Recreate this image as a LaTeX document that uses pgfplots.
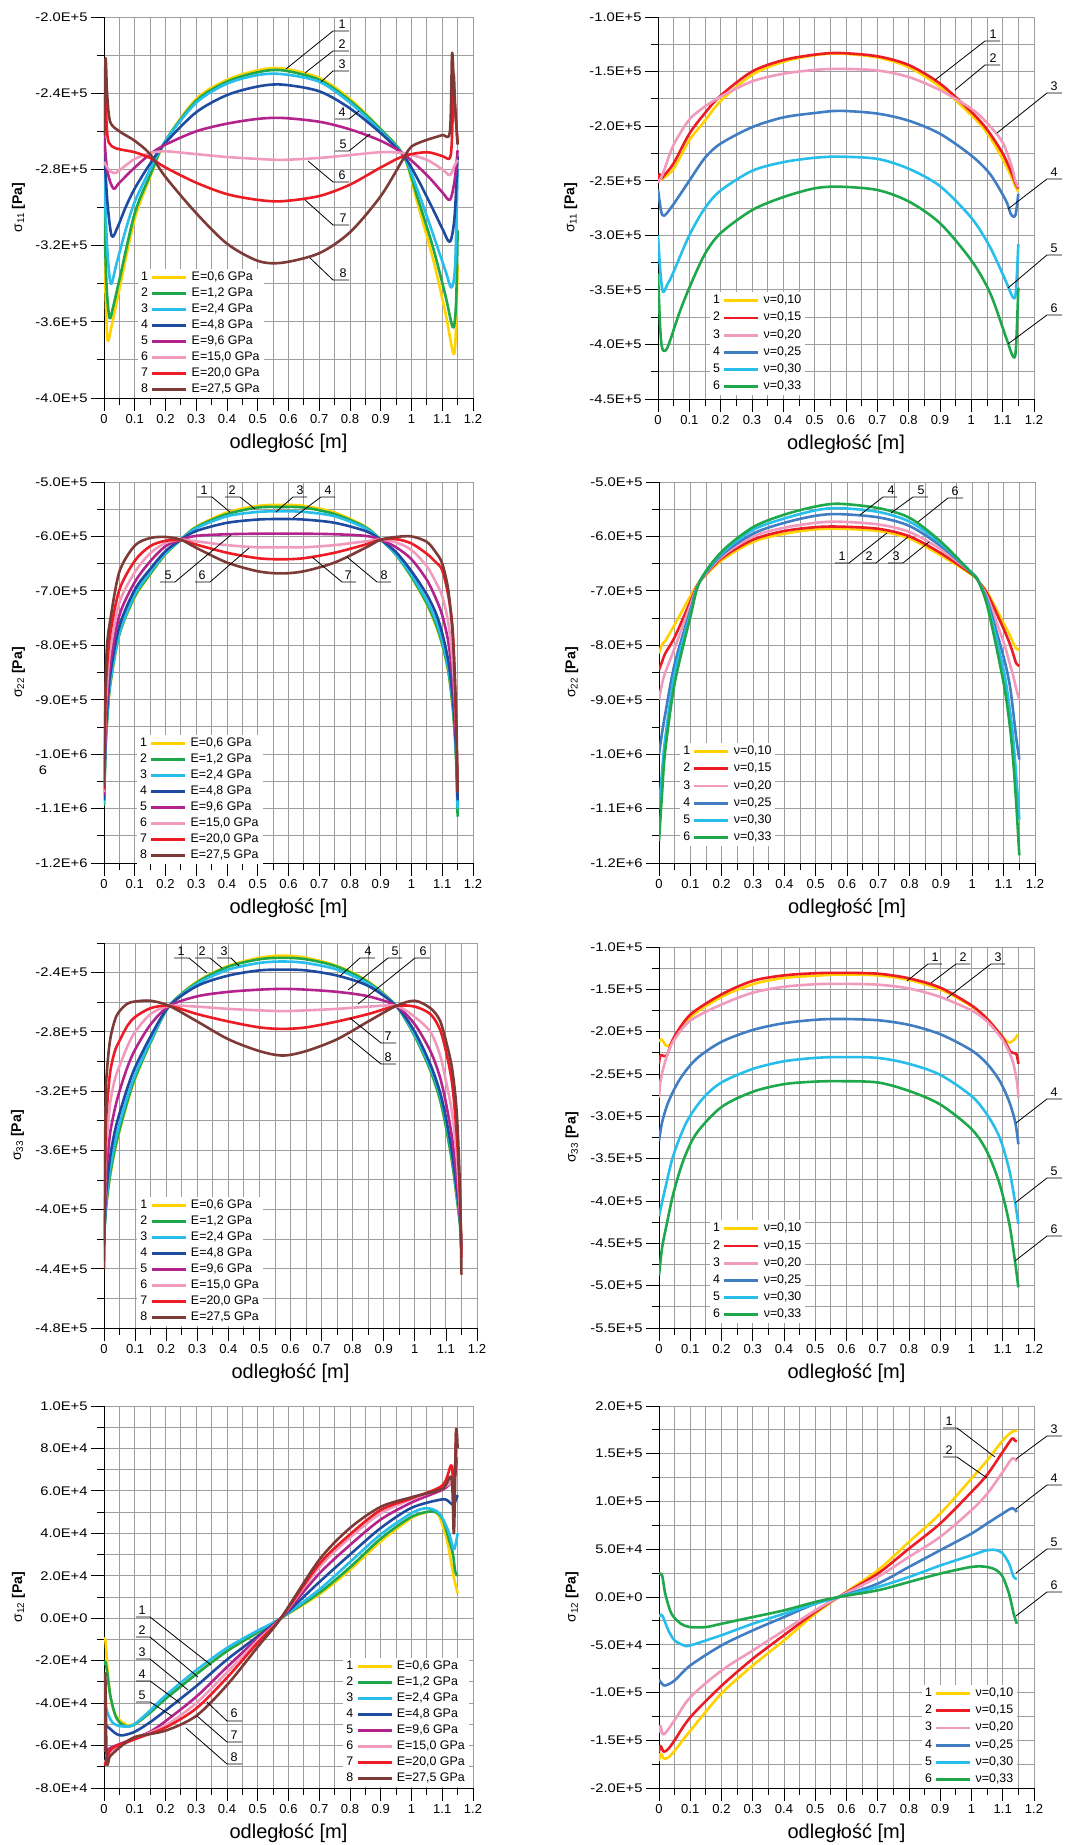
\documentclass[border=0pt]{standalone}
\usepackage{fontspec}
\setmainfont{Liberation Sans}
\newfontfamily\yfont{Liberation Sans}[FakeStretch=1.18]
\usepackage{pgfplots}
\pgfplotsset{compat=1.18}
\definecolor{cY}{RGB}{255,210,0}
\definecolor{cG}{RGB}{30,168,75}
\definecolor{cC}{RGB}{40,190,235}
\definecolor{cB}{RGB}{30,75,160}
\definecolor{cM}{RGB}{180,35,140}
\definecolor{cP}{RGB}{240,155,190}
\definecolor{cR}{RGB}{237,28,36}
\definecolor{cBr}{RGB}{125,58,55}
\definecolor{cBB}{RGB}{65,125,195}
\newcommand\ytf{\yfont\fontsize{12.5}{14}\selectfont}
\newcommand\xtf{\fontsize{13}{15}\selectfont}
\newcommand\xlf{\fontsize{20}{23}\selectfont}
\newcommand\ylf{\fontsize{14}{16}\selectfont}
\newcommand\lgf{\fontsize{12.4}{14}\selectfont}
\newcommand\cof{\fontsize{12.5}{14}\selectfont}
\newcommand\co[8]{\draw[line width=0.8pt] (#2,#3) -- (#4,#5) -- (#6,#5); \node[font=\cof, inner sep=0pt] at (#7,#8) {#1};}
\pgfplotsset{
 base/.style={
   scale only axis,
   xmin=0, xmax=1.2,
   xtick={0,0.1,0.2,0.3,0.4,0.5,0.6,0.7,0.8,0.9,1,1.1,1.2},
   xticklabels={0,0.1,0.2,0.3,0.4,0.5,0.6,0.7,0.8,0.9,1,1.1,1.2},
   minor xtick={0.05,0.15,0.25,0.35,0.45,0.55,0.65,0.75,0.85,0.95,1.05,1.15},
   scaled y ticks=false,
   grid=both,
   major grid style={draw=black!38, line width=0.9pt},
   minor grid style={draw=black!38, line width=0.9pt},
   axis x line*=bottom, axis y line*=left,
   axis line style={-, black, line width=0.9pt},
   tick align=outside,
   major tick length=13pt, minor tick length=7pt,
   every tick/.style={black, line width=0.8pt},
   xticklabel style={font=\xtf},
   yticklabel style={font=\ytf},
   xlabel={odległość [m]},
   every axis x label/.style={at={(axis description cs:0.5,-0.118)}, anchor=center, font=\xlf},
   every axis y label/.style={at={(axis description cs:-0.232,0.5)}, rotate=90, anchor=center, font=\ylf},
   legend style={draw=none, fill=white, anchor=north west, font=\lgf, inner xsep=3pt, inner ysep=2pt, column sep=3pt, row sep=3pt, nodes={inner sep=1pt, text height=8.5pt, text depth=2.5pt, anchor=west}},
   legend cell align=left,
   every axis plot/.append style={line width=2.6pt, smooth, tension=0.5, line join=round},
 },
 numimg/.style={legend image code/.code={\node[anchor=east, inner sep=0pt, font=\lgf, text=black] at (-3pt,0pt) {#1}; \draw[##1, line width=2.8pt] (0pt,0pt) -- (34pt,0pt);}},
 e1/.style={cY,numimg=1}, e2/.style={cG,numimg=2}, e3/.style={cC,numimg=3}, e4/.style={cB,numimg=4},
 e5/.style={cM,numimg=5}, e6/.style={cP,numimg=6}, e7/.style={cR,numimg=7}, e8/.style={cBr,numimg=8},
 n1/.style={cY,numimg=1}, n2/.style={cR,numimg=2}, n3/.style={cP,numimg=3}, n4/.style={cBB,numimg=4},
 n5/.style={cC,numimg=5}, n6/.style={cG,numimg=6},
}
\begin{document}
\begin{tikzpicture}
\path[use as bounding box] (0,0) rectangle (1071pt,1845pt);
%================ P1
\begin{axis}[base, at={(104pt,1447pt)}, anchor=south west, width=369pt, height=381pt,
  ymin=-4e5, ymax=-2e5,
  ytick={-4e5,-3.6e5,-3.2e5,-2.8e5,-2.4e5,-2e5},
  yticklabels={-4.0E+5,-3.6E+5,-3.2E+5,-2.8E+5,-2.4E+5,-2.0E+5},
  minor ytick={-3.8e5,-3.4e5,-3e5,-2.6e5,-2.2e5},
  ylabel={σ\textsubscript{11} \textbf{[Pa]}},
  legend style={at={(0.092,0.339)}}]
\addplot[e1] coordinates {(0,-3.15e5) (0.006,-3.50e5) (0.012,-3.70e5) (0.025,-3.62e5) (0.05,-3.43e5) (0.1,-3.06e5) (0.15,-2.84e5) (0.2,-2.65e5) (0.3,-2.43e5) (0.4,-2.33e5) (0.5,-2.28e5) (0.58,-2.27e5) (0.7,-2.32e5) (0.8,-2.43e5) (0.9,-2.59e5) (0.975,-2.73e5) (1.02,-2.98e5) (1.07,-3.27e5) (1.11,-3.55e5) (1.137,-3.77e5) (1.145,-3.62e5) (1.15,-3.30e5)};
\addlegendentry{E=0,6 GPa}
\addplot[e2] coordinates {(0,-2.98e5) (0.008,-3.40e5) (0.018,-3.58e5) (0.03,-3.52e5) (0.05,-3.38e5) (0.1,-3.03e5) (0.15,-2.83e5) (0.2,-2.65e5) (0.3,-2.44e5) (0.4,-2.34e5) (0.5,-2.29e5) (0.58,-2.28e5) (0.7,-2.33e5) (0.8,-2.44e5) (0.9,-2.59e5) (0.975,-2.73e5) (1.02,-2.95e5) (1.07,-3.21e5) (1.11,-3.46e5) (1.135,-3.63e5) (1.145,-3.50e5) (1.15,-3.12e5)};
\addlegendentry{E=1,2 GPa}
\addplot[e3] coordinates {(0,-2.80e5) (0.01,-3.20e5) (0.022,-3.40e5) (0.04,-3.30e5) (0.07,-3.12e5) (0.1,-2.97e5) (0.15,-2.80e5) (0.2,-2.65e5) (0.3,-2.45e5) (0.4,-2.35e5) (0.5,-2.305e5) (0.58,-2.30e5) (0.7,-2.34e5) (0.8,-2.45e5) (0.9,-2.60e5) (0.975,-2.73e5) (1.02,-2.91e5) (1.07,-3.14e5) (1.11,-3.33e5) (1.13,-3.42e5) (1.142,-3.30e5) (1.15,-2.80e5)};
\addlegendentry{E=2,4 GPa}
\addplot[e4] coordinates {(0,-2.65e5) (0.01,-2.95e5) (0.025,-3.15e5) (0.045,-3.10e5) (0.07,-3.00e5) (0.1,-2.90e5) (0.15,-2.77e5) (0.2,-2.66e5) (0.3,-2.50e5) (0.4,-2.41e5) (0.5,-2.365e5) (0.58,-2.355e5) (0.7,-2.39e5) (0.8,-2.48e5) (0.9,-2.61e5) (0.975,-2.73e5) (1.02,-2.85e5) (1.07,-3.01e5) (1.1,-3.11e5) (1.125,-3.18e5) (1.14,-3.05e5) (1.15,-2.73e5)};
\addlegendentry{E=4,8 GPa}
\addplot[e5] coordinates {(0,-2.60e5) (0.01,-2.80e5) (0.03,-2.90e5) (0.05,-2.87e5) (0.1,-2.79e5) (0.15,-2.72e5) (0.2,-2.67e5) (0.3,-2.60e5) (0.4,-2.56e5) (0.5,-2.535e5) (0.58,-2.53e5) (0.7,-2.55e5) (0.8,-2.59e5) (0.9,-2.65e5) (0.975,-2.72e5) (1.05,-2.83e5) (1.1,-2.92e5) (1.125,-2.96e5) (1.14,-2.86e5) (1.15,-2.70e5)};
\addlegendentry{E=9,6 GPa}
\addplot[e6] coordinates {(0,-2.76e5) (0.015,-2.80e5) (0.035,-2.82e5) (0.07,-2.78e5) (0.1,-2.745e5) (0.15,-2.715e5) (0.2,-2.705e5) (0.3,-2.72e5) (0.4,-2.735e5) (0.5,-2.745e5) (0.58,-2.75e5) (0.7,-2.74e5) (0.8,-2.725e5) (0.9,-2.71e5) (0.975,-2.715e5) (1.05,-2.75e5) (1.1,-2.80e5) (1.125,-2.83e5) (1.14,-2.78e5) (1.15,-2.75e5)};
\addlegendentry{E=15,0 GPa}
\addplot[e7] coordinates {(0,-2.62e5) (0.004,-2.40e5) (0.009,-2.58e5) (0.016,-2.66e5) (0.04,-2.69e5) (0.1,-2.71e5) (0.15,-2.74e5) (0.2,-2.79e5) (0.3,-2.87e5) (0.4,-2.93e5) (0.5,-2.96e5) (0.58,-2.967e5) (0.7,-2.94e5) (0.8,-2.88e5) (0.9,-2.79e5) (0.975,-2.73e5) (1.05,-2.71e5) (1.1,-2.73e5) (1.125,-2.74e5) (1.132,-2.62e5) (1.137,-2.30e5) (1.142,-2.48e5) (1.15,-2.66e5)};
\addlegendentry{E=20,0 GPa}
\addplot[e8] coordinates {(0,-2.62e5) (0.005,-2.22e5) (0.01,-2.40e5) (0.02,-2.55e5) (0.05,-2.60e5) (0.1,-2.65e5) (0.15,-2.72e5) (0.2,-2.84e5) (0.3,-3.03e5) (0.4,-3.19e5) (0.5,-3.28e5) (0.58,-3.29e5) (0.7,-3.24e5) (0.8,-3.13e5) (0.9,-2.94e5) (0.975,-2.74e5) (1.0,-2.68e5) (1.05,-2.645e5) (1.1,-2.62e5) (1.125,-2.60e5) (1.132,-2.19e5) (1.139,-2.40e5) (1.15,-2.67e5)};
\addlegendentry{E=27,5 GPa}
\end{axis}
%================ P2
\begin{axis}[base, at={(658pt,1446pt)}, anchor=south west, width=376pt, height=382pt,
  ymin=-4.5e5, ymax=-1e5,
  ytick={-4.5e5,-4e5,-3.5e5,-3e5,-2.5e5,-2e5,-1.5e5,-1e5},
  yticklabels={-4.5E+5,-4.0E+5,-3.5E+5,-3.0E+5,-2.5E+5,-2.0E+5,-1.5E+5,-1.0E+5},
  minor ytick={-4.25e5,-3.75e5,-3.25e5,-2.75e5,-2.25e5,-1.75e5,-1.25e5},
  ylabel={σ\textsubscript{11} \textbf{[Pa]}},
  legend style={at={(0.138,0.280)}, row sep=4.2pt}]
\addplot[n1] coordinates {(0,-2.50e5) (0.005,-2.45e5) (0.01,-2.49e5) (0.02,-2.47e5) (0.05,-2.39e5) (0.1,-2.13e5) (0.15,-1.95e5) (0.2,-1.77e5) (0.3,-1.53e5) (0.4,-1.41e5) (0.5,-1.35e5) (0.58,-1.335e5) (0.7,-1.37e5) (0.8,-1.46e5) (0.9,-1.64e5) (1.0,-1.90e5) (1.05,-2.06e5) (1.1,-2.30e5) (1.13,-2.48e5) (1.14,-2.55e5) (1.15,-2.60e5)};
\addlegendentry{ν=0,10}
\addplot[n2] coordinates {(0,-2.50e5) (0.005,-2.44e5) (0.01,-2.48e5) (0.02,-2.45e5) (0.05,-2.34e5) (0.1,-2.07e5) (0.15,-1.88e5) (0.2,-1.72e5) (0.3,-1.50e5) (0.4,-1.395e5) (0.5,-1.345e5) (0.58,-1.33e5) (0.7,-1.36e5) (0.8,-1.44e5) (0.9,-1.61e5) (1.0,-1.87e5) (1.05,-2.03e5) (1.1,-2.25e5) (1.13,-2.44e5) (1.14,-2.52e5) (1.15,-2.57e5)};
\addlegendentry{ν=0,15}
\addplot[n3] coordinates {(0,-2.52e5) (0.01,-2.47e5) (0.02,-2.40e5) (0.05,-2.17e5) (0.1,-1.94e5) (0.15,-1.82e5) (0.2,-1.73e5) (0.3,-1.59e5) (0.4,-1.52e5) (0.5,-1.485e5) (0.58,-1.475e5) (0.7,-1.49e5) (0.8,-1.55e5) (0.9,-1.67e5) (1.0,-1.84e5) (1.05,-1.97e5) (1.1,-2.15e5) (1.13,-2.38e5) (1.14,-2.50e5) (1.15,-2.56e5)};
\addlegendentry{ν=0,20}
\addplot[n4] coordinates {(0,-2.58e5) (0.01,-2.78e5) (0.02,-2.82e5) (0.046,-2.73e5) (0.1,-2.50e5) (0.15,-2.29e5) (0.2,-2.16e5) (0.3,-2.01e5) (0.4,-1.92e5) (0.5,-1.88e5) (0.58,-1.86e5) (0.7,-1.885e5) (0.8,-1.95e5) (0.9,-2.07e5) (1.0,-2.27e5) (1.06,-2.44e5) (1.11,-2.68e5) (1.125,-2.80e5) (1.135,-2.83e5) (1.142,-2.80e5) (1.15,-2.62e5)};
\addlegendentry{ν=0,25}
\addplot[n5] coordinates {(0,-3.00e5) (0.008,-3.35e5) (0.016,-3.52e5) (0.03,-3.45e5) (0.046,-3.36e5) (0.1,-3.00e5) (0.15,-2.75e5) (0.2,-2.59e5) (0.3,-2.41e5) (0.4,-2.33e5) (0.5,-2.29e5) (0.58,-2.28e5) (0.7,-2.30e5) (0.8,-2.39e5) (0.9,-2.55e5) (1.0,-2.84e5) (1.06,-3.11e5) (1.11,-3.42e5) (1.133,-3.57e5) (1.142,-3.52e5) (1.15,-3.08e5)};
\addlegendentry{ν=0,30}
\addplot[n6] coordinates {(0,-3.35e5) (0.007,-3.85e5) (0.014,-4.04e5) (0.03,-4.03e5) (0.067,-3.72e5) (0.1,-3.48e5) (0.15,-3.17e5) (0.2,-2.98e5) (0.3,-2.77e5) (0.4,-2.65e5) (0.5,-2.57e5) (0.58,-2.555e5) (0.7,-2.585e5) (0.8,-2.69e5) (0.9,-2.89e5) (1.0,-3.23e5) (1.06,-3.53e5) (1.11,-3.93e5) (1.133,-4.11e5) (1.142,-4.05e5) (1.15,-3.48e5)};
\addlegendentry{ν=0,33}
\end{axis}
%================ P3
\begin{axis}[base, at={(104pt,982pt)}, anchor=south west, width=369pt, height=381pt,
  ymin=-1.2e6, ymax=-5e5,
  ytick={-1.2e6,-1.1e6,-1e6,-9e5,-8e5,-7e5,-6e5,-5e5},
  yticklabels={-1.2E+6,-1.1E+6,-1.0E+6,-9.0E+5,-8.0E+5,-7.0E+5,-6.0E+5,-5.0E+5},
  minor ytick={-1.15e6,-1.05e6,-9.5e5,-8.5e5,-7.5e5,-6.5e5,-5.5e5},
  ylabel={σ\textsubscript{22} \textbf{[Pa]}},
  legend style={at={(0.089,0.336)}}]
\addplot[e1] coordinates {(0,-10.85e5) (0.005,-9.9e5) (0.01,-9.4e5) (0.02,-8.75e5) (0.05,-7.8e5) (0.1,-7.12e5) (0.15,-6.70e5) (0.2,-6.33e5) (0.25,-6.06e5) (0.3,-5.82e5) (0.4,-5.56e5) (0.5,-5.44e5) (0.575,-5.42e5) (0.65,-5.44e5) (0.75,-5.56e5) (0.85,-5.82e5) (0.9,-6.06e5) (0.95,-6.34e5) (1.0,-6.75e5) (1.05,-7.25e5) (1.08,-7.65e5) (1.1,-8.0e5) (1.12,-8.5e5) (1.135,-9.2e5) (1.145,-10.0e5) (1.15,-11.0e5)};
\addlegendentry{E=0,6 GPa}
\addplot[e2] coordinates {(0,-10.95e5) (0.005,-9.9e5) (0.01,-9.4e5) (0.02,-8.73e5) (0.05,-7.8e5) (0.1,-7.10e5) (0.15,-6.69e5) (0.2,-6.32e5) (0.25,-6.06e5) (0.3,-5.83e5) (0.4,-5.59e5) (0.5,-5.47e5) (0.575,-5.46e5) (0.65,-5.47e5) (0.75,-5.59e5) (0.85,-5.83e5) (0.9,-6.06e5) (0.95,-6.34e5) (1.0,-6.74e5) (1.05,-7.23e5) (1.08,-7.62e5) (1.1,-7.98e5) (1.12,-8.48e5) (1.135,-9.2e5) (1.145,-10.1e5) (1.15,-11.15e5)};
\addlegendentry{E=1,2 GPa}
\addplot[e3] coordinates {(0,-10.9e5) (0.005,-9.85e5) (0.01,-9.35e5) (0.02,-8.7e5) (0.05,-7.78e5) (0.1,-7.07e5) (0.15,-6.66e5) (0.2,-6.31e5) (0.25,-6.06e5) (0.3,-5.85e5) (0.4,-5.63e5) (0.5,-5.55e5) (0.575,-5.54e5) (0.65,-5.55e5) (0.75,-5.63e5) (0.85,-5.85e5) (0.9,-6.06e5) (0.95,-6.33e5) (1.0,-6.71e5) (1.05,-7.18e5) (1.08,-7.55e5) (1.1,-7.92e5) (1.12,-8.42e5) (1.135,-9.1e5) (1.145,-10.0e5) (1.15,-11.0e5)};
\addlegendentry{E=2,4 GPa}
\addplot[e4] coordinates {(0,-10.85e5) (0.005,-9.7e5) (0.01,-9.2e5) (0.02,-8.55e5) (0.05,-7.65e5) (0.1,-6.98e5) (0.15,-6.60e5) (0.2,-6.27e5) (0.25,-6.06e5) (0.3,-5.90e5) (0.4,-5.75e5) (0.5,-5.69e5) (0.575,-5.68e5) (0.65,-5.69e5) (0.75,-5.75e5) (0.85,-5.90e5) (0.9,-6.06e5) (0.95,-6.29e5) (1.0,-6.64e5) (1.05,-7.07e5) (1.08,-7.42e5) (1.1,-7.78e5) (1.12,-8.3e5) (1.135,-9.0e5) (1.145,-9.9e5) (1.15,-10.85e5)};
\addlegendentry{E=4,8 GPa}
\addplot[e5] coordinates {(0,-10.75e5) (0.005,-9.5e5) (0.01,-9.0e5) (0.02,-8.35e5) (0.05,-7.45e5) (0.1,-6.84e5) (0.15,-6.46e5) (0.2,-6.18e5) (0.25,-6.06e5) (0.3,-5.99e5) (0.4,-5.96e5) (0.5,-5.95e5) (0.575,-5.95e5) (0.65,-5.95e5) (0.75,-5.96e5) (0.85,-5.99e5) (0.9,-6.06e5) (0.95,-6.20e5) (1.0,-6.42e5) (1.05,-6.80e5) (1.08,-7.15e5) (1.1,-7.45e5) (1.12,-7.95e5) (1.135,-8.7e5) (1.145,-9.7e5) (1.15,-10.7e5)};
\addlegendentry{E=9,6 GPa}
\addplot[e6] coordinates {(0,-10.7e5) (0.005,-9.3e5) (0.01,-8.75e5) (0.02,-8.1e5) (0.05,-7.22e5) (0.1,-6.66e5) (0.15,-6.31e5) (0.2,-6.12e5) (0.25,-6.06e5) (0.3,-6.09e5) (0.4,-6.16e5) (0.5,-6.20e5) (0.575,-6.20e5) (0.65,-6.20e5) (0.75,-6.16e5) (0.85,-6.09e5) (0.9,-6.06e5) (0.95,-6.11e5) (1.0,-6.25e5) (1.05,-6.55e5) (1.08,-6.85e5) (1.1,-7.1e5) (1.12,-7.6e5) (1.135,-8.4e5) (1.145,-9.5e5) (1.15,-10.6e5)};
\addlegendentry{E=15,0 GPa}
\addplot[e7] coordinates {(0,-10.65e5) (0.005,-9.0e5) (0.01,-8.4e5) (0.02,-7.8e5) (0.05,-6.98e5) (0.1,-6.45e5) (0.15,-6.18e5) (0.2,-6.08e5) (0.25,-6.07e5) (0.3,-6.15e5) (0.4,-6.30e5) (0.5,-6.40e5) (0.575,-6.42e5) (0.65,-6.40e5) (0.75,-6.30e5) (0.85,-6.15e5) (0.9,-6.06e5) (0.95,-6.05e5) (1.0,-6.13e5) (1.05,-6.32e5) (1.08,-6.48e5) (1.1,-6.62e5) (1.12,-7.1e5) (1.135,-7.8e5) (1.145,-9.5e5) (1.15,-10.7e5)};
\addlegendentry{E=20,0 GPa}
\addplot[e8] coordinates {(0,-10.6e5) (0.005,-8.7e5) (0.01,-8.0e5) (0.02,-7.55e5) (0.05,-6.65e5) (0.1,-6.17e5) (0.15,-6.03e5) (0.2,-6.01e5) (0.25,-6.06e5) (0.3,-6.21e5) (0.4,-6.48e5) (0.5,-6.64e5) (0.575,-6.68e5) (0.65,-6.64e5) (0.75,-6.48e5) (0.85,-6.21e5) (0.9,-6.06e5) (0.95,-6.01e5) (1.0,-6.00e5) (1.05,-6.10e5) (1.08,-6.30e5) (1.1,-6.5e5) (1.12,-7.0e5) (1.135,-7.9e5) (1.145,-9.2e5) (1.15,-10.7e5)};
\addlegendentry{E=27,5 GPa}
\end{axis}
%================ P4
\begin{axis}[base, at={(659pt,982pt)}, anchor=south west, width=376pt, height=381pt,
  ymin=-1.2e6, ymax=-5e5,
  ytick={-1.2e6,-1.1e6,-1e6,-9e5,-8e5,-7e5,-6e5,-5e5},
  yticklabels={-1.2E+6,-1.1E+6,-1.0E+6,-9.0E+5,-8.0E+5,-7.0E+5,-6.0E+5,-5.0E+5},
  minor ytick={-1.15e6,-1.05e6,-9.5e5,-8.5e5,-7.5e5,-6.5e5,-5.5e5},
  ylabel={σ\textsubscript{22} \textbf{[Pa]}},
  legend style={at={(0.056,0.315)}, row sep=4.2pt}]
\addplot[n1] coordinates {(0,-8.15e5) (0.01,-7.98e5) (0.02,-7.92e5) (0.05,-7.62e5) (0.1,-7.1e5) (0.13,-6.83e5) (0.2,-6.44e5) (0.3,-6.10e5) (0.4,-5.95e5) (0.5,-5.87e5) (0.575,-5.86e5) (0.7,-5.90e5) (0.8,-6.04e5) (0.9,-6.35e5) (1.0,-6.71e5) (1.02,-6.83e5) (1.05,-7.05e5) (1.1,-7.60e5) (1.12,-7.82e5) (1.13,-7.95e5) (1.14,-8.06e5) (1.15,-8.08e5)};
\addlegendentry{ν=0,10}
\addplot[n2] coordinates {(0,-8.45e5) (0.01,-8.3e5) (0.02,-8.15e5) (0.05,-7.85e5) (0.1,-7.2e5) (0.13,-6.83e5) (0.2,-6.40e5) (0.3,-6.06e5) (0.4,-5.90e5) (0.5,-5.83e5) (0.575,-5.82e5) (0.7,-5.86e5) (0.8,-6.00e5) (0.9,-6.31e5) (1.0,-6.70e5) (1.02,-6.83e5) (1.05,-7.08e5) (1.1,-7.70e5) (1.12,-7.98e5) (1.13,-8.15e5) (1.14,-8.33e5) (1.15,-8.38e5)};
\addlegendentry{ν=0,15}
\addplot[n3] coordinates {(0,-9.0e5) (0.01,-8.7e5) (0.02,-8.5e5) (0.05,-8.05e5) (0.1,-7.27e5) (0.13,-6.83e5) (0.2,-6.37e5) (0.3,-6.00e5) (0.4,-5.84e5) (0.5,-5.75e5) (0.575,-5.73e5) (0.7,-5.78e5) (0.8,-5.92e5) (0.9,-6.24e5) (1.0,-6.68e5) (1.02,-6.83e5) (1.05,-7.15e5) (1.1,-7.95e5) (1.12,-8.35e5) (1.13,-8.55e5) (1.14,-8.8e5) (1.15,-9.0e5)};
\addlegendentry{ν=0,20}
\addplot[n4] coordinates {(0,-10.0e5) (0.01,-9.6e5) (0.02,-9.26e5) (0.05,-8.34e5) (0.1,-7.36e5) (0.13,-6.83e5) (0.2,-6.34e5) (0.3,-5.95e5) (0.4,-5.75e5) (0.5,-5.62e5) (0.575,-5.59e5) (0.7,-5.65e5) (0.8,-5.81e5) (0.9,-6.18e5) (1.0,-6.68e5) (1.02,-6.83e5) (1.05,-7.22e5) (1.1,-8.22e5) (1.12,-8.75e5) (1.13,-9.2e5) (1.14,-9.7e5) (1.15,-10.1e5)};
\addlegendentry{ν=0,25}
\addplot[n5] coordinates {(0,-11.0e5) (0.01,-10.3e5) (0.02,-9.7e5) (0.05,-8.52e5) (0.1,-7.42e5) (0.13,-6.83e5) (0.2,-6.31e5) (0.3,-5.88e5) (0.4,-5.67e5) (0.5,-5.52e5) (0.575,-5.48e5) (0.7,-5.55e5) (0.8,-5.73e5) (0.9,-6.13e5) (1.0,-6.68e5) (1.02,-6.83e5) (1.05,-7.28e5) (1.1,-8.46e5) (1.12,-9.2e5) (1.13,-9.69e5) (1.14,-10.4e5) (1.15,-11.2e5)};
\addlegendentry{ν=0,30}
\addplot[n6] coordinates {(0,-11.6e5) (0.01,-10.7e5) (0.02,-9.93e5) (0.05,-8.70e5) (0.1,-7.48e5) (0.13,-6.83e5) (0.2,-6.28e5) (0.3,-5.83e5) (0.4,-5.60e5) (0.5,-5.45e5) (0.575,-5.40e5) (0.7,-5.48e5) (0.8,-5.66e5) (0.9,-6.10e5) (1.0,-6.69e5) (1.02,-6.83e5) (1.05,-7.33e5) (1.1,-8.70e5) (1.12,-9.5e5) (1.13,-10.1e5) (1.14,-10.9e5) (1.15,-11.86e5)};
\addlegendentry{ν=0,33}
\end{axis}
%================ P5
\begin{axis}[base, at={(104pt,517pt)}, anchor=south west, width=373pt, height=385pt,
  ymin=-4.8e5, ymax=-2.2e5,
  ytick={-4.8e5,-4.4e5,-4e5,-3.6e5,-3.2e5,-2.8e5,-2.4e5},
  yticklabels={-4.8E+5,-4.4E+5,-4.0E+5,-3.6E+5,-3.2E+5,-2.8E+5,-2.4E+5},
  minor ytick={-4.6e5,-4.2e5,-3.8e5,-3.4e5,-3e5,-2.6e5,-2.2e5},
  ylabel={σ\textsubscript{33} \textbf{[Pa]}},
  legend style={at={(0.089,0.340)}}]
\addplot[e1] coordinates {(0,-4.16e5) (0.005,-4.02e5) (0.01,-3.92e5) (0.02,-3.77e5) (0.035,-3.60e5) (0.05,-3.47e5) (0.075,-3.28e5) (0.1,-3.12e5) (0.15,-2.87e5) (0.21,-2.625e5) (0.3,-2.46e5) (0.4,-2.355e5) (0.5,-2.30e5) (0.575,-2.285e5) (0.65,-2.30e5) (0.75,-2.355e5) (0.85,-2.46e5) (0.94,-2.625e5) (1.0,-2.83e5) (1.05,-3.06e5) (1.08,-3.25e5) (1.1,-3.44e5) (1.12,-3.68e5) (1.135,-3.92e5) (1.145,-4.08e5) (1.15,-4.20e5)};
\addlegendentry{E=0,6 GPa}
\addplot[e2] coordinates {(0,-4.20e5) (0.005,-4.03e5) (0.01,-3.92e5) (0.02,-3.76e5) (0.035,-3.59e5) (0.05,-3.46e5) (0.075,-3.27e5) (0.1,-3.11e5) (0.15,-2.87e5) (0.21,-2.625e5) (0.3,-2.465e5) (0.4,-2.36e5) (0.5,-2.31e5) (0.575,-2.30e5) (0.65,-2.31e5) (0.75,-2.36e5) (0.85,-2.465e5) (0.94,-2.625e5) (1.0,-2.83e5) (1.05,-3.06e5) (1.08,-3.25e5) (1.1,-3.44e5) (1.12,-3.68e5) (1.135,-3.92e5) (1.145,-4.10e5) (1.15,-4.24e5)};
\addlegendentry{E=1,2 GPa}
\addplot[e3] coordinates {(0,-4.20e5) (0.005,-4.00e5) (0.01,-3.88e5) (0.02,-3.72e5) (0.035,-3.55e5) (0.05,-3.42e5) (0.075,-3.24e5) (0.1,-3.09e5) (0.15,-2.86e5) (0.21,-2.625e5) (0.3,-2.475e5) (0.4,-2.38e5) (0.5,-2.335e5) (0.575,-2.325e5) (0.65,-2.335e5) (0.75,-2.38e5) (0.85,-2.475e5) (0.94,-2.625e5) (1.0,-2.82e5) (1.05,-3.04e5) (1.08,-3.22e5) (1.1,-3.40e5) (1.12,-3.64e5) (1.135,-3.90e5) (1.145,-4.06e5) (1.15,-4.22e5)};
\addlegendentry{E=2,4 GPa}
\addplot[e4] coordinates {(0,-4.22e5) (0.005,-3.95e5) (0.01,-3.82e5) (0.02,-3.64e5) (0.035,-3.47e5) (0.05,-3.35e5) (0.075,-3.18e5) (0.1,-3.04e5) (0.15,-2.83e5) (0.21,-2.625e5) (0.3,-2.49e5) (0.4,-2.42e5) (0.5,-2.385e5) (0.575,-2.38e5) (0.65,-2.385e5) (0.75,-2.42e5) (0.85,-2.49e5) (0.94,-2.625e5) (1.0,-2.80e5) (1.05,-3.02e5) (1.08,-3.20e5) (1.1,-3.38e5) (1.12,-3.62e5) (1.135,-3.87e5) (1.145,-4.05e5) (1.15,-4.25e5)};
\addlegendentry{E=4,8 GPa}
\addplot[e5] coordinates {(0,-4.25e5) (0.005,-3.85e5) (0.01,-3.68e5) (0.02,-3.48e5) (0.035,-3.32e5) (0.05,-3.20e5) (0.075,-3.04e5) (0.1,-2.92e5) (0.15,-2.75e5) (0.21,-2.625e5) (0.3,-2.56e5) (0.4,-2.53e5) (0.5,-2.515e5) (0.575,-2.51e5) (0.65,-2.515e5) (0.75,-2.53e5) (0.85,-2.56e5) (0.94,-2.625e5) (1.0,-2.75e5) (1.05,-2.93e5) (1.08,-3.10e5) (1.1,-3.28e5) (1.12,-3.52e5) (1.135,-3.80e5) (1.145,-4.05e5) (1.15,-4.27e5)};
\addlegendentry{E=9,6 GPa}
\addplot[e6] coordinates {(0,-4.30e5) (0.005,-3.70e5) (0.01,-3.50e5) (0.02,-3.28e5) (0.035,-3.12e5) (0.05,-3.03e5) (0.075,-2.90e5) (0.1,-2.80e5) (0.15,-2.68e5) (0.21,-2.625e5) (0.3,-2.63e5) (0.4,-2.645e5) (0.5,-2.655e5) (0.575,-2.66e5) (0.65,-2.655e5) (0.75,-2.645e5) (0.85,-2.63e5) (0.94,-2.625e5) (1.0,-2.70e5) (1.05,-2.80e5) (1.08,-2.95e5) (1.1,-3.13e5) (1.12,-3.35e5) (1.135,-3.65e5) (1.145,-4.00e5) (1.15,-4.30e5)};
\addlegendentry{E=15,0 GPa}
\addplot[e7] coordinates {(0,-4.35e5) (0.005,-3.50e5) (0.01,-3.30e5) (0.02,-3.07e5) (0.035,-2.93e5) (0.05,-2.86e5) (0.075,-2.76e5) (0.1,-2.70e5) (0.15,-2.64e5) (0.21,-2.625e5) (0.3,-2.68e5) (0.4,-2.73e5) (0.5,-2.77e5) (0.575,-2.78e5) (0.65,-2.77e5) (0.75,-2.73e5) (0.85,-2.68e5) (0.94,-2.625e5) (1.0,-2.63e5) (1.05,-2.68e5) (1.08,-2.78e5) (1.1,-2.93e5) (1.12,-3.15e5) (1.135,-3.50e5) (1.145,-3.90e5) (1.15,-4.32e5)};
\addlegendentry{E=20,0 GPa}
\addplot[e8] coordinates {(0,-4.40e5) (0.005,-3.30e5) (0.01,-3.05e5) (0.02,-2.85e5) (0.035,-2.72e5) (0.05,-2.66e5) (0.075,-2.61e5) (0.1,-2.595e5) (0.15,-2.59e5) (0.21,-2.625e5) (0.3,-2.73e5) (0.4,-2.85e5) (0.5,-2.93e5) (0.575,-2.96e5) (0.65,-2.93e5) (0.75,-2.85e5) (0.85,-2.73e5) (0.94,-2.625e5) (1.0,-2.59e5) (1.05,-2.64e5) (1.08,-2.72e5) (1.1,-2.86e5) (1.12,-3.05e5) (1.135,-3.35e5) (1.145,-3.85e5) (1.15,-4.44e5)};
\addlegendentry{E=27,5 GPa}
\end{axis}
%================ P6
\begin{axis}[base, at={(659pt,517pt)}, anchor=south west, width=375pt, height=381pt,
  ymin=-5.5e5, ymax=-1e5,
  ytick={-5.5e5,-5e5,-4.5e5,-4e5,-3.5e5,-3e5,-2.5e5,-2e5,-1.5e5,-1e5},
  yticklabels={-5.5E+5,-5.0E+5,-4.5E+5,-4.0E+5,-3.5E+5,-3.0E+5,-2.5E+5,-2.0E+5,-1.5E+5,-1.0E+5},
  minor ytick={-5.25e5,-4.75e5,-4.25e5,-3.75e5,-3.25e5,-2.75e5,-2.25e5,-1.75e5,-1.25e5},
  ylabel={σ\textsubscript{33} \textbf{[Pa]}},
  legend style={at={(0.136,0.283)}, row sep=4.2pt}]
\addplot[n1] coordinates {(0,-2.12e5) (0.008,-2.09e5) (0.025,-2.17e5) (0.046,-2.11e5) (0.1,-1.83e5) (0.2,-1.59e5) (0.3,-1.44e5) (0.4,-1.365e5) (0.5,-1.34e5) (0.58,-1.325e5) (0.7,-1.335e5) (0.8,-1.39e5) (0.9,-1.50e5) (1.0,-1.70e5) (1.05,-1.85e5) (1.09,-2.02e5) (1.106,-2.09e5) (1.122,-2.13e5) (1.14,-2.08e5) (1.148,-2.03e5)};
\addlegendentry{ν=0,10}
\addplot[n2] coordinates {(0,-2.38e5) (0.005,-2.28e5) (0.025,-2.28e5) (0.046,-2.08e5) (0.1,-1.80e5) (0.2,-1.56e5) (0.3,-1.40e5) (0.4,-1.335e5) (0.5,-1.31e5) (0.58,-1.305e5) (0.7,-1.315e5) (0.8,-1.37e5) (0.9,-1.48e5) (1.0,-1.69e5) (1.05,-1.85e5) (1.1,-2.07e5) (1.125,-2.24e5) (1.143,-2.26e5) (1.15,-2.38e5)};
\addlegendentry{ν=0,15}
\addplot[n3] coordinates {(0,-2.78e5) (0.005,-2.58e5) (0.02,-2.35e5) (0.046,-2.11e5) (0.1,-1.87e5) (0.2,-1.68e5) (0.3,-1.54e5) (0.4,-1.47e5) (0.5,-1.44e5) (0.58,-1.435e5) (0.7,-1.445e5) (0.8,-1.49e5) (0.9,-1.59e5) (1.0,-1.75e5) (1.05,-1.88e5) (1.1,-2.10e5) (1.13,-2.33e5) (1.145,-2.58e5) (1.15,-2.78e5)};
\addlegendentry{ν=0,20}
\addplot[n4] coordinates {(0,-3.29e5) (0.01,-3.07e5) (0.03,-2.83e5) (0.067,-2.56e5) (0.12,-2.32e5) (0.2,-2.12e5) (0.3,-1.98e5) (0.4,-1.90e5) (0.5,-1.86e5) (0.58,-1.85e5) (0.7,-1.865e5) (0.8,-1.92e5) (0.9,-2.03e5) (1.0,-2.22e5) (1.05,-2.38e5) (1.09,-2.58e5) (1.12,-2.82e5) (1.14,-3.07e5) (1.15,-3.33e5)};
\addlegendentry{ν=0,25}
\addplot[n5] coordinates {(0,-4.18e5) (0.02,-3.85e5) (0.046,-3.46e5) (0.088,-3.07e5) (0.14,-2.79e5) (0.2,-2.60e5) (0.3,-2.44e5) (0.4,-2.35e5) (0.5,-2.31e5) (0.58,-2.30e5) (0.7,-2.31e5) (0.8,-2.38e5) (0.9,-2.51e5) (1.0,-2.76e5) (1.05,-2.98e5) (1.09,-3.25e5) (1.12,-3.62e5) (1.138,-3.98e5) (1.15,-4.27e5)};
\addlegendentry{ν=0,30}
\addplot[n6] coordinates {(0,-4.88e5) (0.01,-4.55e5) (0.025,-4.27e5) (0.046,-3.91e5) (0.078,-3.52e5) (0.12,-3.20e5) (0.2,-2.89e5) (0.3,-2.71e5) (0.4,-2.62e5) (0.5,-2.59e5) (0.58,-2.585e5) (0.7,-2.60e5) (0.8,-2.70e5) (0.9,-2.86e5) (1.0,-3.15e5) (1.05,-3.42e5) (1.09,-3.80e5) (1.12,-4.25e5) (1.138,-4.68e5) (1.15,-5.02e5)};
\addlegendentry{ν=0,33}
\end{axis}
%================ P7
\begin{axis}[base, at={(104pt,57pt)}, anchor=south west, width=369pt, height=382pt,
  ymin=-8e4, ymax=1e5,
  ytick={-8e4,-6e4,-4e4,-2e4,0,2e4,4e4,6e4,8e4,1e5},
  yticklabels={-8.0E+4,-6.0E+4,-4.0E+4,-2.0E+4,0.0E+0,2.0E+4,4.0E+4,6.0E+4,8.0E+4,1.0E+5},
  minor ytick={-7e4,-5e4,-3e4,-1e4,1e4,3e4,5e4,7e4,9e4},
  ylabel={σ\textsubscript{12} \textbf{[Pa]}},
  legend style={at={(0.648,0.340)}}]
\addplot[e1] coordinates {(0,-1.0e4) (0.005,-1.1e4) (0.014,-2.9e4) (0.025,-4.0e4) (0.041,-4.64e4) (0.074,-5.03e4) (0.106,-4.95e4) (0.15,-4.42e4) (0.2,-3.78e4) (0.3,-2.62e4) (0.4,-1.55e4) (0.5,-0.68e4) (0.575,0) (0.7,1.12e4) (0.8,2.28e4) (0.9,3.62e4) (1.0,4.72e4) (1.05,5.0e4) (1.07,5.03e4) (1.09,4.8e4) (1.115,3.7e4) (1.137,1.97e4) (1.15,1.18e4)};
\addlegendentry{E=0,6 GPa}
\addplot[e2] coordinates {(0,-2.2e4) (0.004,-2.05e4) (0.01,-2.5e4) (0.02,-3.6e4) (0.035,-4.5e4) (0.05,-4.9e4) (0.075,-5.1e4) (0.1,-5.0e4) (0.15,-4.45e4) (0.2,-3.80e4) (0.3,-2.64e4) (0.4,-1.55e4) (0.5,-0.66e4) (0.575,0) (0.7,1.2e4) (0.8,2.4e4) (0.9,3.75e4) (1.0,4.78e4) (1.07,5.03e4) (1.1,4.7e4) (1.12,3.8e4) (1.135,3.0e4) (1.142,2.2e4) (1.15,2.0e4)};
\addlegendentry{E=1,2 GPa}
\addplot[e3] coordinates {(0,-3.85e4) (0.005,-4.1e4) (0.015,-4.6e4) (0.03,-4.95e4) (0.05,-5.08e4) (0.075,-5.1e4) (0.1,-4.98e4) (0.15,-4.35e4) (0.2,-3.65e4) (0.3,-2.45e4) (0.4,-1.40e4) (0.5,-0.58e4) (0.575,0) (0.7,1.35e4) (0.8,2.65e4) (0.9,3.95e4) (1.0,4.95e4) (1.05,5.18e4) (1.09,4.95e4) (1.12,4.1e4) (1.137,3.25e4) (1.145,3.6e4) (1.15,4.0e4)};
\addlegendentry{E=2,4 GPa}
\addplot[e4] coordinates {(0,-5.0e4) (0.005,-5.05e4) (0.015,-5.15e4) (0.04,-5.45e4) (0.06,-5.52e4) (0.1,-5.35e4) (0.15,-4.90e4) (0.2,-4.35e4) (0.3,-3.20e4) (0.4,-1.95e4) (0.5,-0.85e4) (0.575,0) (0.7,1.7e4) (0.8,3.0e4) (0.9,4.25e4) (1.0,5.2e4) (1.1,5.6e4) (1.125,5.45e4) (1.137,5.35e4) (1.15,5.8e4)};
\addlegendentry{E=4,8 GPa}
\addplot[e5] coordinates {(0,-6.1e4) (0.01,-6.2e4) (0.03,-6.05e4) (0.1,-5.65e4) (0.15,-5.35e4) (0.2,-4.85e4) (0.3,-3.70e4) (0.4,-2.30e4) (0.5,-0.95e4) (0.575,0) (0.7,2.1e4) (0.8,3.45e4) (0.9,4.65e4) (1.0,5.45e4) (1.1,6.05e4) (1.13,6.4e4) (1.14,6.6e4) (1.148,7.6e4)};
\addlegendentry{E=9,6 GPa}
\addplot[e6] coordinates {(0,-6.85e4) (0.01,-6.6e4) (0.03,-6.2e4) (0.1,-5.7e4) (0.2,-5.05e4) (0.3,-4.0e4) (0.4,-2.55e4) (0.5,-1.05e4) (0.575,0) (0.7,2.4e4) (0.8,3.8e4) (0.9,4.95e4) (1.0,5.6e4) (1.1,6.15e4) (1.13,6.5e4) (1.148,7.8e4)};
\addlegendentry{E=15,0 GPa}
\addplot[e7] coordinates {(0,-6.8e4) (0.005,-6.9e4) (0.01,-6.5e4) (0.03,-6.1e4) (0.1,-5.7e4) (0.2,-5.15e4) (0.3,-4.25e4) (0.4,-2.80e4) (0.5,-1.15e4) (0.575,0) (0.7,2.55e4) (0.8,3.95e4) (0.9,5.1e4) (1.0,5.65e4) (1.1,6.25e4) (1.13,7.2e4) (1.138,5.6e4) (1.145,8.8e4)};
\addlegendentry{E=20,0 GPa}
\addplot[e8] coordinates {(0,-6.3e4) (0.004,-2.6e4) (0.009,-6.7e4) (0.02,-6.5e4) (0.05,-6.1e4) (0.1,-5.6e4) (0.2,-5.3e4) (0.3,-4.6e4) (0.4,-3.15e4) (0.5,-1.35e4) (0.575,0) (0.7,2.75e4) (0.8,4.25e4) (0.9,5.25e4) (1.0,5.7e4) (1.1,6.1e4) (1.13,6.6e4) (1.138,4.0e4) (1.145,8.8e4) (1.15,8.0e4)};
\addlegendentry{E=27,5 GPa}
\end{axis}
%================ P8
\begin{axis}[base, at={(659pt,57pt)}, anchor=south west, width=375pt, height=382pt,
  ymin=-2e5, ymax=2e5,
  ytick={-2e5,-1.5e5,-1e5,-5e4,0,5e4,1e5,1.5e5,2e5},
  yticklabels={-2.0E+5,-1.5E+5,-1.0E+5,-5.0E+4,0.0E+0,5.0E+4,1.0E+5,1.5E+5,2.0E+5},
  minor ytick={-1.75e5,-1.25e5,-7.5e4,-2.5e4,2.5e4,7.5e4,1.25e5,1.75e5},
  ylabel={σ\textsubscript{12} \textbf{[Pa]}},
  legend style={at={(0.701,0.270)}, row sep=4.2pt}]
\addplot[n1] coordinates {(0,-1.72e5) (0.005,-1.64e5) (0.015,-1.69e5) (0.03,-1.68e5) (0.05,-1.61e5) (0.1,-1.40e5) (0.2,-1.01e5) (0.3,-0.717e5) (0.4,-0.455e5) (0.5,-0.175e5) (0.575,0) (0.7,0.28e5) (0.8,0.577e5) (0.9,0.874e5) (1.0,1.24e5) (1.05,1.43e5) (1.1,1.64e5) (1.13,1.73e5) (1.145,1.74e5)};
\addlegendentry{ν=0,10}
\addplot[n2] coordinates {(0,-1.62e5) (0.005,-1.56e5) (0.015,-1.62e5) (0.03,-1.59e5) (0.05,-1.50e5) (0.1,-1.26e5) (0.2,-0.93e5) (0.3,-0.647e5) (0.4,-0.40e5) (0.5,-0.157e5) (0.575,0) (0.7,0.245e5) (0.8,0.507e5) (0.9,0.77e5) (1.0,1.10e5) (1.05,1.28e5) (1.1,1.52e5) (1.13,1.66e5) (1.138,1.64e5) (1.145,1.63e5)};
\addlegendentry{ν=0,15}
\addplot[n3] coordinates {(0,-1.42e5) (0.005,-1.35e5) (0.015,-1.44e5) (0.05,-1.29e5) (0.1,-1.05e5) (0.2,-0.77e5) (0.3,-0.56e5) (0.4,-0.35e5) (0.5,-0.14e5) (0.575,0) (0.7,0.21e5) (0.8,0.42e5) (0.9,0.63e5) (1.0,0.91e5) (1.05,1.08e5) (1.1,1.31e5) (1.13,1.45e5) (1.145,1.42e5)};
\addlegendentry{ν=0,20}
\addplot[n4] coordinates {(0,-0.867e5) (0.01,-0.91e5) (0.02,-0.927e5) (0.05,-0.874e5) (0.1,-0.717e5) (0.2,-0.507e5) (0.3,-0.35e5) (0.4,-0.21e5) (0.5,-0.07e5) (0.575,0) (0.7,0.14e5) (0.8,0.315e5) (0.9,0.49e5) (1.0,0.664e5) (1.05,0.77e5) (1.1,0.874e5) (1.13,0.93e5) (1.145,0.89e5)};
\addlegendentry{ν=0,25}
\addplot[n5] coordinates {(0,-0.21e5) (0.01,-0.19e5) (0.03,-0.35e5) (0.05,-0.455e5) (0.08,-0.507e5) (0.1,-0.507e5) (0.2,-0.40e5) (0.3,-0.28e5) (0.4,-0.175e5) (0.5,-0.07e5) (0.575,0) (0.7,0.105e5) (0.8,0.21e5) (0.9,0.33e5) (1.0,0.437e5) (1.05,0.49e5) (1.08,0.49e5) (1.1,0.455e5) (1.12,0.35e5) (1.135,0.21e5) (1.145,0.19e5)};
\addlegendentry{ν=0,30}
\addplot[n6] coordinates {(0,0.245e5) (0.01,0.227e5) (0.02,0.035e5) (0.04,-0.175e5) (0.07,-0.28e5) (0.1,-0.315e5) (0.15,-0.315e5) (0.2,-0.28e5) (0.3,-0.21e5) (0.4,-0.14e5) (0.5,-0.052e5) (0.575,0) (0.7,0.07e5) (0.8,0.157e5) (0.9,0.245e5) (1.0,0.315e5) (1.05,0.315e5) (1.08,0.28e5) (1.1,0.21e5) (1.12,0.035e5) (1.135,-0.175e5) (1.145,-0.28e5)};
\addlegendentry{ν=0,33}
\end{axis}
%================ callouts
\begin{scope}[x=1pt, y=-1pt, shift={(0pt,1845pt)}]
% P1
\co{1}{286}{69}{333}{31}{349}{342}{24}
\co{2}{305}{73}{333}{51}{349}{342}{44}
\co{3}{321}{82}{333}{71}{349}{342}{64}
\co{4}{359}{111}{349}{119}{335}{342}{112}
\co{5}{370}{134}{349}{151}{335}{343}{144}
\co{6}{308}{161}{333}{182}{349}{342}{175}
\co{7}{305}{200}{333}{225}{349}{343}{218}
\co{8}{310}{258}{333}{280}{349}{343}{273}
% P2
\co{1}{935}{80}{985}{41}{1000}{993}{34}
\co{2}{955}{90}{985}{65}{1000}{993}{58}
\co{3}{997}{133}{1047}{93}{1062}{1054}{86}
\co{4}{1008}{209}{1047}{179}{1062}{1054}{172}
\co{5}{1008}{288}{1047}{255}{1062}{1054}{248}
\co{6}{1008}{344}{1047}{315}{1062}{1054}{308}
% P3
\co{1}{230}{512}{212}{497}{197}{204}{490}
\co{2}{255}{509}{240}{497}{225}{232}{490}
\co{3}{276}{512}{293}{497}{307}{300}{490}
\co{4}{293}{518}{321}{497}{335}{328}{490}
\co{5}{231}{535}{175}{582}{160}{168}{575}
\co{6}{249}{548}{210}{582}{195}{202}{575}
\co{7}{312}{557}{342}{582}{356}{348}{575}
\co{8}{347}{557}{377}{582}{391}{384}{575}
\node[font=\ytf, inner sep=0pt] at (43,770) {6};
% P4
\co{4}{860}{515}{883}{497}{897}{891}{490}
\co{5}{891}{513}{913}{497}{928}{921}{490}
\co{6}{918}{522}{948}{498}{963}{955}{491}
\co{1}{887}{533}{849}{563}{835}{842}{556}
\co{2}{908}{537}{876}{563}{862}{869}{556}
\co{3}{929}{542}{903}{563}{888}{896}{556}
% P5
\co{1}{207}{973}{189}{958}{174}{181}{951}
\co{2}{222}{968}{210}{958}{195}{202}{951}
\co{3}{239}{966}{231}{958}{217}{224}{951}
\co{4}{340}{976}{360}{958}{375}{368}{951}
\co{5}{348}{990}{388}{958}{402}{395}{951}
\co{6}{358}{1004}{415}{958}{430}{423}{951}
\co{7}{350}{1018}{381}{1043}{396}{388}{1036}
\co{8}{348}{1037}{381}{1064}{396}{388}{1057}
% P6
\co{1}{907}{981}{928}{964}{942}{935}{957}
\co{2}{931}{983}{956}{964}{970}{963}{957}
\co{3}{947}{998}{991}{964}{1005}{998}{957}
\co{4}{1016}{1123}{1047}{1099}{1062}{1054}{1092}
\co{5}{1015}{1203}{1047}{1178}{1062}{1054}{1171}
\co{6}{1015}{1261}{1047}{1236}{1062}{1054}{1229}
% P7
\co{1}{211}{1665}{150}{1617}{136}{142}{1610}
\co{2}{198}{1677}{150}{1637}{136}{142}{1630}
\co{3}{188}{1690}{150}{1659}{136}{142}{1652}
\co{4}{180}{1703}{150}{1681}{136}{142}{1674}
\co{5}{172}{1716}{150}{1702}{136}{142}{1695}
\co{6}{207}{1702}{227}{1721}{242}{234}{1713}
\co{7}{197}{1716}{227}{1742}{242}{234}{1735}
\co{8}{186}{1728}{227}{1764}{242}{234}{1757}
% P8
\co{1}{995}{1457}{957}{1428}{943}{949}{1421}
\co{2}{987}{1478}{957}{1457}{943}{949}{1450}
\co{3}{1016}{1459}{1047}{1436}{1062}{1054}{1429}
\co{4}{1016}{1509}{1047}{1485}{1062}{1054}{1478}
\co{5}{1016}{1573}{1047}{1549}{1062}{1054}{1542}
\co{6}{1016}{1616}{1047}{1592}{1062}{1054}{1585}
\end{scope}
\end{tikzpicture}
\end{document}
